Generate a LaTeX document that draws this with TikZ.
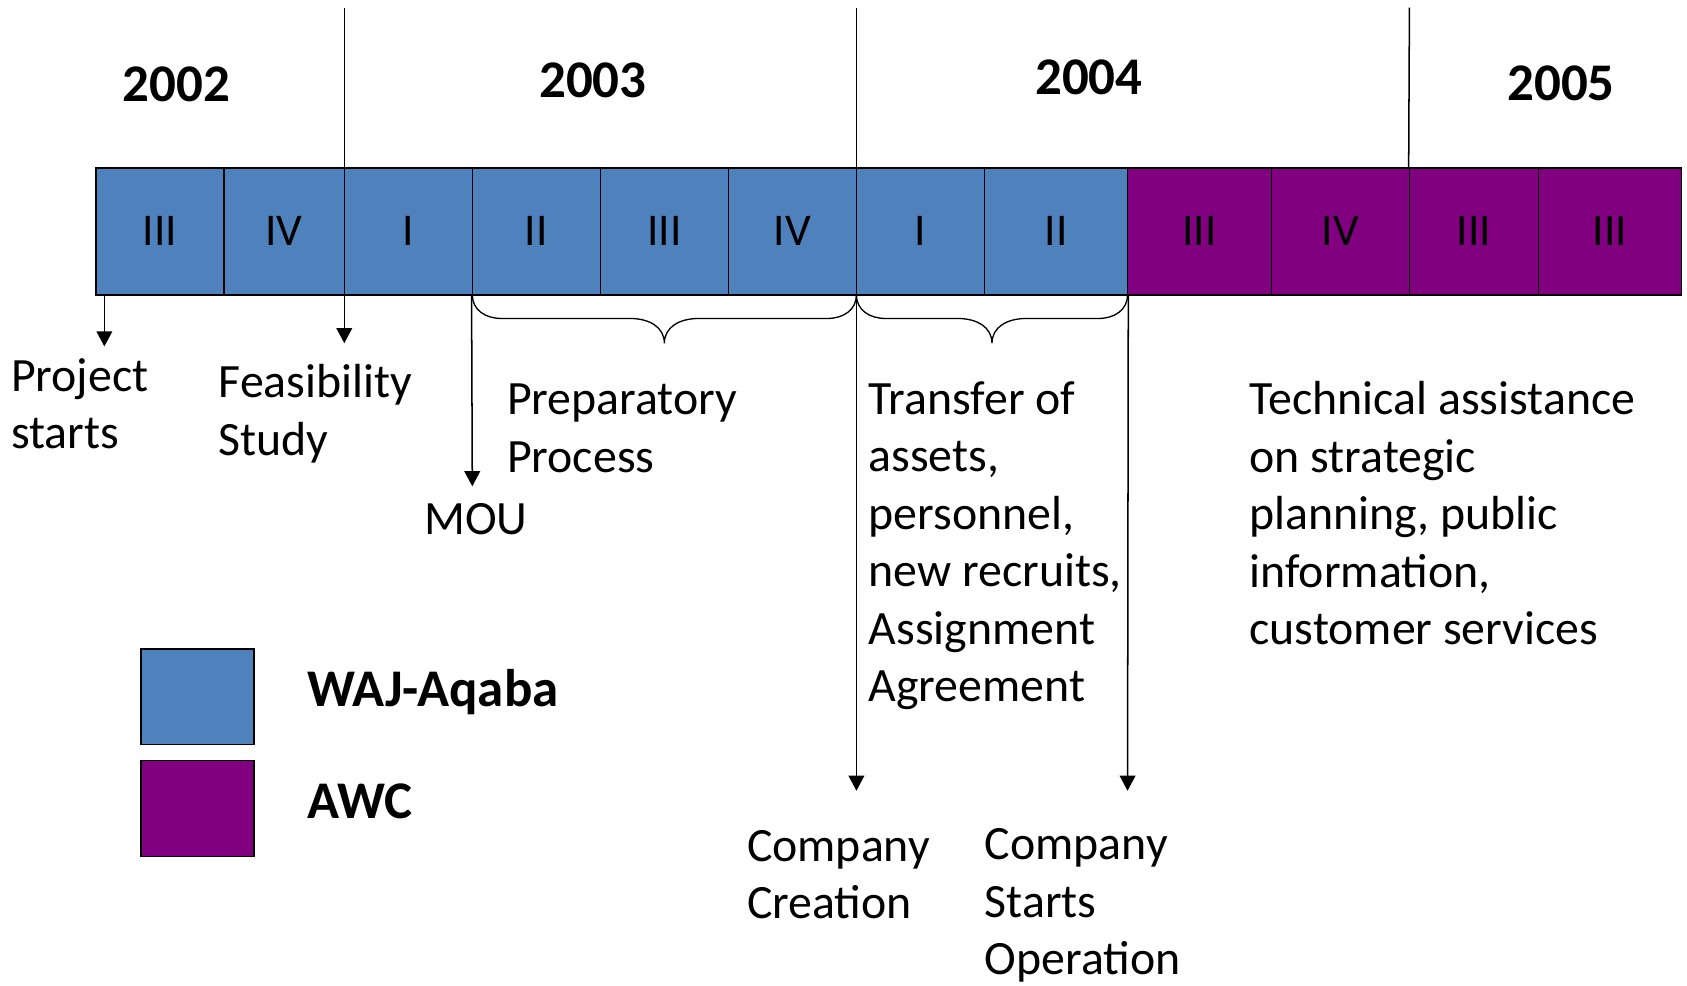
\documentclass[tikz,border=0pt]{standalone}
\usepackage{fontspec}
\setmainfont{Carlito}
\usetikzlibrary{arrows.meta,calc}
\definecolor{wajblue}{HTML}{4F81BD}
\definecolor{awcpurple}{HTML}{800080}
\def\timebrace(#1:#2){\draw[bracel] (#1,274) .. controls (#1,288) and ({#1+12},296) .. ({#1+27},296)
	-- ({(#1+#2)/2-32},296) .. controls ({(#1+#2)/2-14},296) and ({(#1+#2)/2},304) .. ({(#1+#2)/2},319)
	.. controls ({(#1+#2)/2},304) and ({(#1+#2)/2+14},296) .. ({(#1+#2)/2+32},296)
	-- ({#2-27},296) .. controls ({#2-12},296) and (#2,288) .. (#2,274);}

\begin{document}
\begin{tikzpicture}[x=0.02cm, y=-0.02cm,
	qbox/.style={draw=black, line width=0.8pt, minimum height=2.36cm, inner sep=0pt, font=\fontsize{24}{28}\selectfont},
	year/.style={anchor=base, inner sep=0pt, font=\fontsize{28}{32}\selectfont\bfseries},
	note/.style={anchor=base west, align=left, inner sep=0pt, font=\fontsize{25.3}{30.4}\selectfont},
	arr/.style={line width=0.8pt, -{Triangle[length=8pt,width=8.3pt]}},
	bracel/.style={line width=0.7pt},
	legbox/.style={draw=black, line width=0.8pt, minimum width=2.1cm, minimum height=1.78cm, inner sep=0pt},
	legtext/.style={anchor=base west, inner sep=0pt, font=\fontsize{28}{32}\selectfont\bfseries}]
		%%%%% START %%%%%
		
		\path[fill=white, use as bounding box] (0,0) rectangle (1568,916);
		
		% quarters
		\foreach \n/\a/\b/\c/\t in {1/89/208/wajblue/III, 2/208/320/wajblue/IV, 3/320/439/wajblue/I, 4/439/558/wajblue/II,
			5/558/677/wajblue/III, 6/677/796/wajblue/IV, 7/796/915/wajblue/I, 8/915/1048/wajblue/II,
			9/1048/1182/awcpurple/III, 10/1182/1310/awcpurple/IV, 11/1310/1430/awcpurple/III, 12/1430/1563/awcpurple/III}
			\node[qbox, fill=\c, minimum width={(\b-\a)*0.02cm}] (q\n) at ({(\a+\b)/2},215) {\t};
		
		% years
		\node[year] (y2002) at (164,94) {2002};
		\node[year] (y2003) at (551,91) {2003};
		\node[year] (y2004) at (1012,88) {2004};
		\node[year] (y2005) at (1451,93) {2005};
		
		\coordinate (top2003) at (320,7);
		\coordinate (top2004) at (796,7);
		\coordinate (top2005) at (1310,7);
		\coordinate (startstip) at (97,322);
		\coordinate (feastip) at (320,319);
		\coordinate (moutip) at (439,452);
		\coordinate (creationtip) at (796,735);
		\coordinate (operationtip) at (1048,735);
		
		\draw[arr] (q1.south -| startstip) -- (startstip);
		\draw[arr] (top2003) -- (feastip);
		\draw[arr] (q4.south west) -- (moutip);
		\draw[arr] (top2004) -- (creationtip);
		\draw[arr] (q8.south east) -- (operationtip);
		\draw[line width=0.8pt] (top2005) -- (q11.north west);
		
		\timebrace(439:796)
		\timebrace(796:1048)
		
		% labels (placed at the baseline of their last line)
		\node[note] (pstarts) at (10,417) {Project\\starts};
		\node[note] (feasib) at (203,423) {Feasibility\\Study};
		\node[note] (mou) at (394,497) {MOU};
		\node[note] (prep) at (471,439) {Preparatory\\Process};
		\node[note] (transfer) at (807,652) {Transfer of\\assets,\\personnel,\\new recruits,\\Assignment\\Agreement};
		\node[note] (techassist) at (1161,599) {Technical assistance\\on strategic\\planning, public\\information,\\customer services};
		\node[note] (creation) at (694,854) {Company\\Creation};
		\node[note] (operation) at (915,906) {Company\\Starts\\Operation};
		
		% legend
		\node[legbox, fill=wajblue] (legwaj) at (183.5,647.5) {};
		\node[legbox, fill=awcpurple] (legawc) at (183.5,751.5) {};
		\node[legtext] (legwajtext) at (285,657) {WAJ-Aqaba};
		\node[legtext] (legawctext) at (285,761) {AWC};
		
		%%%%% END %%%%%
\end{tikzpicture}
\end{document}
